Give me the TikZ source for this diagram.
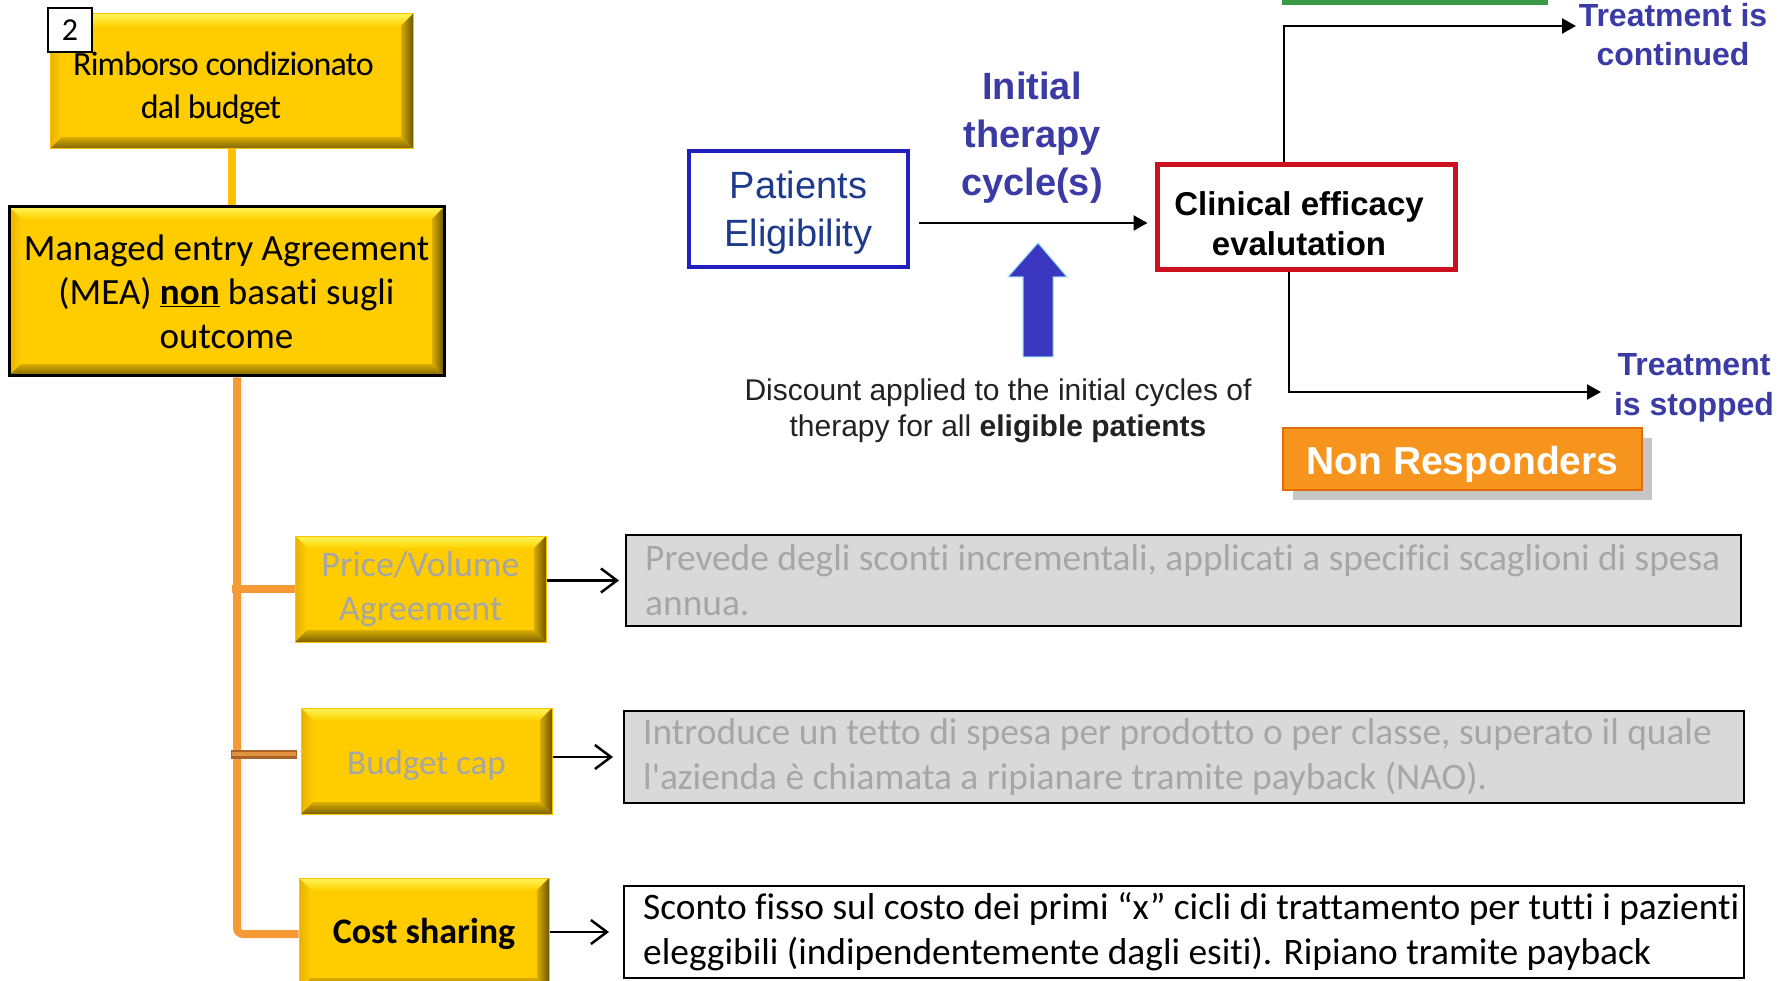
\documentclass[tikz,border=0pt]{standalone}
\usepackage{fontspec}
\setmainfont{Carlito}[Ligatures={TeX,NoCommon}]
\newfontfamily\arialf{Liberation Sans}
\newfontfamily\rimfont[LetterSpace=-2.5,Ligatures=NoCommon]{Carlito}
\usetikzlibrary{arrows.meta,calc}
\definecolor{yel}{HTML}{FFCC00}
\definecolor{bevTop}{HTML}{FFF35A}
\definecolor{bevTop2}{HTML}{FFD400}
\definecolor{bevLeft}{HTML}{E6B200}
\definecolor{bevRin}{HTML}{D9AC00}
\definecolor{bevRout}{HTML}{6E5700}
\definecolor{bevBin}{HTML}{D9AE00}
\definecolor{bevBout}{HTML}{7A6100}
\definecolor{pblue}{HTML}{2020C0}
\definecolor{ptext}{HTML}{1E3A8C}
\definecolor{ititle}{HTML}{3B3BA6}
\definecolor{cred}{HTML}{CC1020}
\definecolor{dgray}{HTML}{222222}
\definecolor{nrorange}{HTML}{F7941D}
\definecolor{nredge}{HTML}{E36C0A}
\definecolor{grn}{HTML}{3A9A44}
\definecolor{barrow}{HTML}{3A36C0}
\definecolor{orl}{HTML}{F79A35}
\definecolor{ylline}{HTML}{FFC000}
\definecolor{txtgray}{HTML}{A6A6A6}
\definecolor{gfill}{HTML}{D9D9D9}
\definecolor{brdark}{HTML}{A8652A}
\definecolor{brlight}{HTML}{E0923E}
\begin{document}
\begin{tikzpicture}[x=1pt,y=-1pt,
  ybox/.style={fill=yel, draw=yel!85!orange, line width=1pt, inner sep=0pt,
    path picture={
      \coordinate (bNW) at (path picture bounding box.north west);
      \coordinate (bNE) at (path picture bounding box.north east);
      \coordinate (bSW) at (path picture bounding box.south west);
      \coordinate (bSE) at (path picture bounding box.south east);
      \coordinate (iNW) at ([shift={(12pt,-12pt)}]bNW);
      \coordinate (iNE) at ([shift={(-12pt,-12pt)}]bNE);
      \coordinate (iSW) at ([shift={(12pt,12pt)}]bSW);
      \coordinate (iSE) at ([shift={(-12pt,12pt)}]bSE);
      \shade[top color=bevTop, bottom color=bevTop2] (bNW) -- (bNE) -- (iNE) -- (iNW) -- cycle;
      \shade[left color=bevLeft, right color=yel] (bNW) -- (iNW) -- (iSW) -- (bSW) -- cycle;
      \shade[left color=bevRin, right color=bevRout] (bNE) -- (iNE) -- (iSE) -- (bSE) -- cycle;
      \shade[top color=bevBin, bottom color=bevBout] (bSW) -- (iSW) -- (iSE) -- (bSE) -- cycle;
    }},
  gbox/.style={draw=black, line width=2pt, inner sep=0pt},
  desc/.style={align=left, inner sep=0pt, font=\fontsize{37.4}{45}\selectfont},
  orline/.style={draw=orl, line width=8pt},
  barb/.style={draw=black, line width=2.5pt, -{Straight Barb[length=16pt,width=24pt]}},
  tri/.style={draw=black, line width=2.5pt, -{Triangle[length=14pt,width=15pt]}}
]
\useasboundingbox (0,0) rectangle (1786,981);
\fill[white] (0,0) rectangle (1786,981);

% ---------- left tree ----------
\node[ybox, minimum width=363pt, minimum height=135pt] (rim) at (231.5,81.5) {};
\node[inner sep=0pt, align=center, font=\rimfont\fontsize{34}{43}\selectfont] (rimtxt)
  at ([shift={(-8pt,-7pt)}]rim.center) {Rimborso condizionato\\dal budget\hspace*{25pt}};
\node[draw=black, fill=white, line width=2pt, minimum size=44pt, inner sep=0pt,
  font=\fontsize{32}{38}\selectfont] (num) at (70,30) {2};

\node[ybox, draw=black, line width=3pt, minimum width=435pt, minimum height=169pt,
  align=center, font=\fontsize{37}{44}\selectfont] (mea) at (226.5,291.5)
  {Managed entry Agreement\\(MEA) \underline{\textbf{non}} basati sugli\\outcome};

\node[ybox, minimum width=251pt, minimum height=106pt, align=center, text=txtgray,
  font=\fontsize{36}{44}\selectfont] (pv) at (420.5,589) {Price/Volume\\Agreement};
\node[ybox, minimum width=251pt, minimum height=106pt, align=center, text=txtgray,
  font=\fontsize{35}{42}\selectfont, text height=33pt] (bc) at (426.5,761) {Budget cap};
\node[ybox, minimum width=250pt, minimum height=112pt, align=center,
  font=\fontsize{36}{43}\selectfont] (cs) at (424,934) {\textbf{Cost sharing}};

% connectors of tree
\draw[draw=ylline, line width=8pt] ([xshift=0.5pt]rim.south) -- ([xshift=0.5pt]rim.south |- mea.north);
\draw[orline, rounded corners=6pt] ([xshift=10.5pt]mea.south) |- (cs.west);
\draw[orline] (pv.west) -- ++(-63pt,0);
\draw[draw=brdark, line width=9pt] ([shift={(-4pt,7pt)}]bc.west) -- ++(-66pt,0);
\draw[draw=brlight, line width=4.5pt] ([shift={(-5pt,7pt)}]bc.west) -- ++(-64pt,0);

% description boxes
\node[gbox, fill=gfill, minimum width=1115pt, minimum height=91pt] (g1) at (1183.5,580.5) {};
\node[desc, text=txtgray, anchor=west] (t1) at ([xshift=20pt]g1.west)
  {Prevede degli sconti incrementali, applicati a specifici scaglioni di spesa\\annua.};
\node[gbox, fill=gfill, minimum width=1120pt, minimum height=92pt] (g2) at (1184,757) {};
\node[desc, text=txtgray, anchor=west] (t2) at ([xshift=20pt]g2.west)
  {Introduce un tetto di spesa per prodotto o per classe, superato il quale\\l\textquotesingle azienda è chiamata a ripianare tramite payback (NAO).};
\node[gbox, fill=white, minimum width=1120pt, minimum height=92pt] (g3) at (1184,932) {};
\node[desc, text=black, anchor=west] (t3) at ([xshift=20pt]g3.west)
  {Sconto fisso sul costo dei primi “x” cicli di trattamento per tutti i pazienti\\eleggibili (indipendentemente dagli esiti). Ripiano tramite payback};

\draw[barb] (pv.east |- g1.west) -- (g1.west) [shorten >=6pt];
\draw[barb, shorten >=10pt] (bc.east |- g2.west) -- (g2.west);
\draw[barb, shorten >=14pt] (cs.east |- g3.west) -- (g3.west);

% ---------- right flow ----------
\fill[grn] (1282,-5) rectangle (1548,5);

\node[draw=pblue, line width=3.5pt, minimum width=219pt, minimum height=116pt] (pat) at (798.5,209) {};
\node[align=center, inner sep=0pt, text=ptext, font=\arialf\fontsize{38}{48}\selectfont] (pattxt)
  at ([yshift=-3.5pt]pat.center) {Patients\\Eligibility};
\node[draw=cred, fill=white, line width=5pt, minimum width=298pt, minimum height=105pt] (clin) at (1306,217.5) {};
\node[align=center, inner sep=0pt, font=\arialf\bfseries\fontsize{33}{40}\selectfont] (clintxt)
  at ([shift={(-7pt,-6pt)}]clin.center) {Clinical efficacy\\evalutation};
\node[align=center, text=ititle, font=\arialf\bfseries\fontsize{38}{48}\selectfont] (init)
  at (1032,137.5) {Initial\\therapy\\cycle(s)};
\node[align=center, text=dgray, font=\arialf\fontsize{30}{36}\selectfont] (disc)
  at (998,411) {Discount applied to the initial cycles of\\therapy for all \textbf{eligible patients}};
\node[align=center, text=ititle, font=\arialf\bfseries\fontsize{32}{39}\selectfont] (tcont)
  at (1673,35) {Treatment is\\continued};
\node[align=center, text=ititle, font=\arialf\bfseries\fontsize{32}{40}\selectfont] (tstop)
  at (1694,387.5) {Treatment\\is stopped};

\fill[gray!45] (1293,438) rectangle (1652,500);
\node[fill=nrorange, draw=nredge, line width=1.5pt, minimum width=359pt, minimum height=62pt] (nr) at (1462.5,459) {};
\node[inner sep=0pt, text=white, font=\arialf\bfseries\fontsize{39}{44}\selectfont] (nrtxt)
  at ([yshift=-5pt]nr.center) {Non Responders};

\coordinate (ay) at (0,223);
\coordinate (tcend) at (1576,26);
\coordinate (tsend) at (1601,392);
\draw[tri, shorten <=9pt, shorten >=7pt] (pat.east |- ay) -- (clin.west |- ay);
\draw[tri] ([xshift=-22pt]clin.north) |- (tcend);
\draw[tri] ([xshift=-17pt]clin.south) |- (tsend);

% blue block arrow
\filldraw[fill=barrow, draw=cyan!45, line width=1pt]
  (1038,243) -- (1067,277) -- (1053,277) -- (1053,357) -- (1023,357) -- (1023,277) -- (1008,277) -- cycle;
\end{tikzpicture}
\end{document}
